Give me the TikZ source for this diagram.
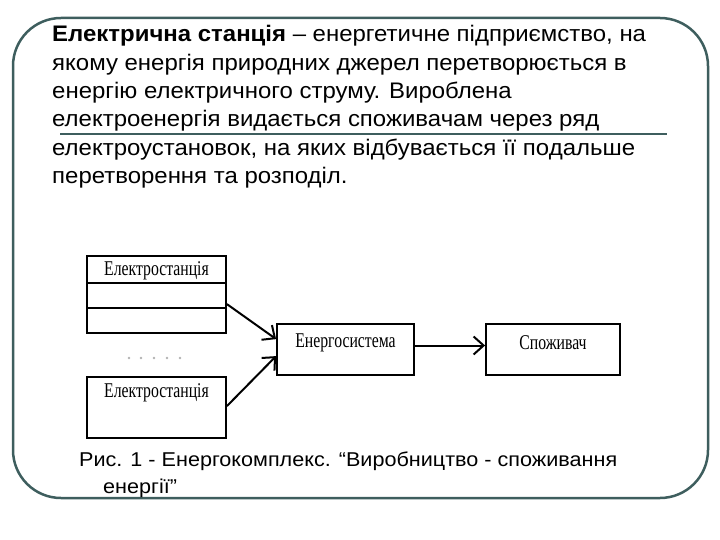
\documentclass[tikz,border=0pt]{standalone}
\usepackage{fontspec}
\usepackage{graphicx}
\setmainfont{Liberation Sans}
\newfontfamily\diagfont{Liberation Serif}
\usetikzlibrary{arrows.meta,calc}
\definecolor{framecol}{RGB}{62,94,94}
\newcommand{\dlab}[1]{\scalebox{0.75}[1]{#1}}
\newcommand{\mtx}[1]{\scalebox{1.065}[1]{#1}}
\newcommand{\ctx}[1]{\scalebox{1.08}[1]{#1}}
\begin{document}
\begin{tikzpicture}[x=1pt,y=-1pt,
  txt/.style={anchor=base west,inner sep=0pt,font=\fontsize{22.5}{27}\selectfont},
  captxt/.style={anchor=base west,inner sep=0pt,font=\fontsize{20}{24}\selectfont},
  box/.style={draw=black,line width=1.8pt,inner sep=0pt},
  dtext/.style={inner sep=0pt,font=\diagfont\fontsize{21}{21}\selectfont},
  arr/.style={line width=2pt,-{Straight Barb[length=10pt,width=18pt,line width=2pt]}}]
\useasboundingbox (0,0) rectangle (720,540);
% frame
\draw[framecol,line width=2.5pt,rounded corners=48pt] (13,18) rectangle (708,498);
% definition text
\node[txt] (l1) at (52,42) {\mtx{\textbf{Електрична станція} – енергетичне підприємство, на}};
\node[txt] (l2) at (52,71) {\mtx{якому енергія природних джерел перетворюється в}};
\node[txt] (l3) at (52,99) {\mtx{енергію електричного струму. Вироблена}};
\node[txt] (l4) at (52,127) {\mtx{електроенергія видається споживачам через ряд}};
\node[txt] (l5) at (52,156) {\mtx{електроустановок, на яких відбувається її подальше}};
\node[txt] (l6) at (52,184) {\mtx{перетворення та розподіл.}};
\draw[framecol,line width=2.5pt] (60,134) -- (667,134);
% diagram
\node[box,minimum width=139pt,minimum height=77pt] (e1) at (156.5,294.5) {};
\draw[line width=1.5pt] (87,283) -- (226,283);
\draw[line width=1.5pt] (87,308) -- (226,308);
\node[dtext] (e1t) at (156.5,271) {\dlab{Електростанція}};
\foreach \xx in {129,141,154,167,180}
  \fill[gray!60] (\xx,358) circle (1.3pt);
\node[box,minimum width=139pt,minimum height=61pt] (e2) at (156.5,407.5) {};
\node[dtext] (e2t) at (156.5,393) {\dlab{Електростанція}};
\node[box,minimum width=137pt,minimum height=51pt] (es) at (345.5,349.5) {};
\node[dtext] (est) at (345.5,343) {\dlab{Енергосистема}};
\node[box,minimum width=134pt,minimum height=51pt] (sp) at (553,349.5) {};
\node[dtext] (spt) at (553,343) {\dlab{Споживач}};
\draw[arr] ($(e1.north east)+(0,49)$) -- ($(es.north west)+(0,16)$);
\draw[arr] ($(e2.north east)+(0,30)$) -- ($(es.north west)+(0,33)$);
\draw[arr] ([yshift=4pt]es.east) -- ([yshift=4pt]sp.west);
% caption
\node[captxt] (c1) at (79,466) {\ctx{Рис. 1 - Енергокомплекс. “Виробництво - споживання}};
\node[captxt] (c2) at (103,493) {\ctx{енергії”}};
\end{tikzpicture}
\end{document}
